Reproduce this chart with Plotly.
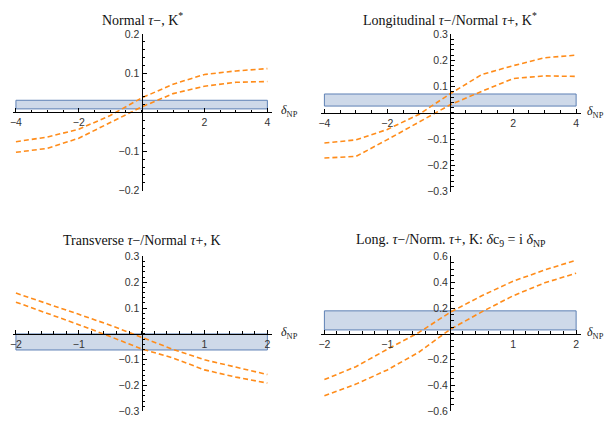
import plotly.graph_objects as go

W, H = 604, 424

# ---------------- data ----------------
x_wide = [-4, -3, -2, -1, 0, 1, 2, 3, 4]
x_narrow = [-2, -1.5, -1, -0.5, 0, 0.5, 1, 1.5, 2]

p1_upper = [-0.075, -0.063, -0.043, -0.008, 0.037, 0.072, 0.097, 0.106, 0.112]
p1_lower = [-0.102, -0.092, -0.066, -0.027, 0.014, 0.048, 0.067, 0.077, 0.079]
p1_band = [0.009, 0.031]

p2_upper = [-0.115, -0.103, -0.063, -0.006, 0.073, 0.146, 0.180, 0.210, 0.220]
p2_lower = [-0.172, -0.166, -0.102, -0.036, 0.031, 0.082, 0.131, 0.141, 0.139]
p2_band = [0.026, 0.072]

p3_upper = [0.158, 0.118, 0.076, 0.034, -0.013, -0.060, -0.100, -0.130, -0.157]
p3_lower = [0.123, 0.080, 0.036, -0.010, -0.058, -0.093, -0.139, -0.167, -0.190]
p3_band = [-0.062, 0.0]

p4_upper = [-0.355, -0.255, -0.120, 0.010, 0.167, 0.295, 0.408, 0.495, 0.570]
p4_lower = [-0.480, -0.390, -0.280, -0.143, 0.035, 0.170, 0.295, 0.395, 0.470]
p4_band = [0.030, 0.178]

titles = [
    "Normal <i>τ</i>−, K<sup>*</sup>",
    "Longitudinal <i>τ</i>−/Normal <i>τ</i>+, K<sup>*</sup>",
    "Transverse <i>τ</i>−/Normal <i>τ</i>+, K",
    "Long. <i>τ</i>−/Norm. <i>τ</i>+, K: <i>δ</i>c<sub>9</sub> = i <i>δ</i><sub>NP</sub>",
]

x_ticks_wide = [-4, -2, 2, 4]
x_ticks_narrow = [-2, -1, 1, 2]
y_ticks_02 = [-0.2, -0.1, 0.1, 0.2]
y_ticks_03 = [-0.3, -0.2, -0.1, 0.1, 0.2, 0.3]
y_ticks_06 = [-0.6, -0.4, -0.2, 0.2, 0.4, 0.6]


def fmt(v):
    s = ("%g" % abs(v))
    return ("−" + s) if v < 0 else s


# panel geometry (pixels): x of first/last major tick, y of top/bottom of y range
panels = [
    dict(xs=x_wide, up=p1_upper, lo=p1_lower, band=p1_band, xt=x_ticks_wide, yt=y_ticks_02,
         xr=(-4, 4), yr=(-0.2, 0.2), xpx=(13, 265.7), ypx=(29, 190), pad=(0.1, 0.15),
         xminor=0.5, yminor=0.02, title_xy=(140, 13), lab_x=279),
    dict(xs=x_wide, up=p2_upper, lo=p2_lower, band=p2_band, xt=x_ticks_wide, yt=y_ticks_03,
         xr=(-4, 4), yr=(-0.3, 0.3), xpx=(323, 576), ypx=(29, 191), pad=(0.1, 0.15),
         xminor=0.5, yminor=0.02, title_xy=(449, 13), lab_x=587),
    dict(xs=x_narrow, up=p3_upper, lo=p3_lower, band=p3_band, xt=x_ticks_narrow, yt=y_ticks_03,
         xr=(-2, 2), yr=(-0.3, 0.3), xpx=(13, 265.7), ypx=(257.7, 417.3), pad=(0.05, 0.07),
         xminor=0.2, yminor=0.02, title_xy=(140, 241), lab_x=279),
    dict(xs=x_narrow, up=p4_upper, lo=p4_lower, band=p4_band, xt=x_ticks_narrow, yt=y_ticks_06,
         xr=(-2, 2), yr=(-0.6, 0.6), xpx=(323, 576), ypx=(257.7, 417), pad=(0.05, 0.07),
         xminor=0.2, yminor=0.05, title_xy=(450, 241), lab_x=587),
]

ORANGE = "#FF8C1A"
BAND_FILL = "rgba(94,129,181,0.30)"
BAND_LINE = "#5E81B5"
TICKFONT = dict(family="Liberation Sans, Arial, sans-serif", size=10.5, color="#333333")

fig = go.Figure()
layout = dict(
    width=W, height=H, margin=dict(l=0, r=0, t=0, b=0),
    paper_bgcolor="white", plot_bgcolor="white", showlegend=False,
)
annotations = []

for i, p in enumerate(panels, start=1):
    xa = "x" if i == 1 else f"x{i}"
    ya = "y" if i == 1 else f"y{i}"
    xkey = "xaxis" if i == 1 else f"xaxis{i}"
    ykey = "yaxis" if i == 1 else f"yaxis{i}"

    bx0, bx1 = p["xr"]
    lo, hi = p["band"]
    fig.add_trace(go.Scatter(
        x=[bx0, bx1, bx1, bx0, bx0], y=[lo, lo, hi, hi, lo], mode="lines",
        fill="toself", fillcolor=BAND_FILL, line=dict(color=BAND_LINE, width=1),
        xaxis=xa, yaxis=ya, hoverinfo="skip"))
    for ys in (p["up"], p["lo"]):
        fig.add_trace(go.Scatter(
            x=p["xs"], y=ys, mode="lines",
            line=dict(color=ORANGE, width=1.6, dash="5px,3px"),
            xaxis=xa, yaxis=ya, hoverinfo="skip"))

    x0, x1 = p["xr"]
    px0, px1 = p["xpx"]
    unit = (px1 - px0) / (x1 - x0)
    padL, padR = p["pad"]
    rng = [x0 - padL, x1 + padR]
    left = px0 - padL * unit
    right = px1 + padR * unit
    zero_px = px0 + (0 - x0) * unit

    y0, y1 = p["yr"]
    top, bot = p["ypx"]
    yzero_px = top + (y1 - 0) / (y1 - y0) * (bot - top)

    layout[xkey] = dict(
        domain=[left / W, right / W], range=rng, anchor="free",
        position=1 - yzero_px / H,
        showline=True, linecolor="black", linewidth=1.4,
        showgrid=False, zeroline=False,
        tickmode="array", tickvals=p["xt"], ticktext=[fmt(v) for v in p["xt"]],
        ticks="inside", ticklen=4, tickwidth=1, tickcolor="black",
        minor=dict(tickmode="linear", tick0=0, dtick=p["xminor"], ticks="inside",
                   ticklen=2.5, tickwidth=1, tickcolor="black", showgrid=False),
        tickfont=TICKFONT, fixedrange=True,
    )
    layout[ykey] = dict(
        domain=[1 - bot / H, 1 - top / H], range=[y0, y1], anchor="free",
        position=zero_px / W,
        showline=True, linecolor="black", linewidth=1.4,
        showgrid=False, zeroline=False,
        tickmode="array", tickvals=p["yt"], ticktext=[fmt(v) for v in p["yt"]],
        ticks="inside", ticklen=4, tickwidth=1, tickcolor="black",
        minor=dict(tickmode="linear", tick0=0, dtick=p["yminor"], ticks="inside",
                   ticklen=2.5, tickwidth=1, tickcolor="black", showgrid=False),
        tickfont=TICKFONT, fixedrange=True,
    )

    tx, ty = p["title_xy"]
    annotations.append(dict(
        text=titles[i - 1], x=tx / W, y=1 - ty / H, xref="paper", yref="paper",
        xanchor="center", yanchor="middle", showarrow=False,
        font=dict(family="Liberation Serif, Times New Roman, serif", size=14, color="#111111")))
    annotations.append(dict(
        text="<i>δ</i><sub>NP</sub>", x=p["lab_x"] / W, y=1 - (yzero_px - 1) / H,
        xref="paper", yref="paper", xanchor="left", yanchor="middle", showarrow=False,
        borderpad=0, xshift=-1,
        font=dict(family="Liberation Serif, Times New Roman, serif", size=12, color="#222222")))

layout["annotations"] = annotations
fig.update_layout(**layout)
fig.write_html("out.html")
